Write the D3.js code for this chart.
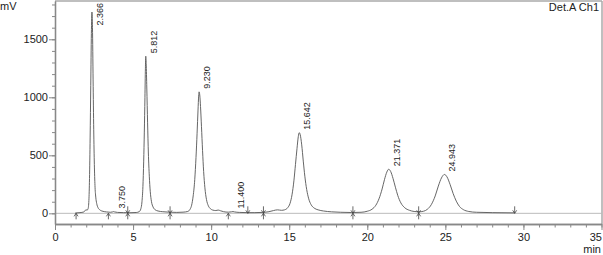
<!DOCTYPE html>
<html>
<head>
<meta charset="utf-8">
<script src="https://cdn.jsdelivr.net/npm/d3@7"></script>
<style>
  body { margin: 0; background: #fff; }
  svg { display: block; font-family: "Liberation Sans", Arial, Helvetica, sans-serif; }
  .axis text { fill: #222; font-size: 11px; }
  .axis path, .axis line { stroke: #888; }
</style>
</head>
<body>
<svg id="chart" width="603" height="255"></svg>
<script>
// trace (time in min, signal in mV)
var traceTime = [1.30, 1.60, 1.85, 1.98, 2.06, 2.12, 2.17, 2.21, 2.25, 2.29, 2.33, 2.366, 2.40, 2.44, 2.48, 2.52, 2.56, 2.61, 2.67, 2.75, 2.85, 3.00, 3.30, 3.55, 3.68, 3.75, 3.82, 4.00, 4.40, 4.80, 5.20,
  5.40, 5.50, 5.57, 5.63, 5.68, 5.72, 5.76, 5.79, 5.812, 5.84, 5.88, 5.93, 5.98, 6.04, 6.10, 6.18, 6.28, 6.40, 6.60, 6.90, 7.30, 7.80, 8.20, 8.50,
  8.65, 8.75, 8.85, 8.95, 9.03, 9.10, 9.16, 9.20, 9.23, 9.27, 9.32, 9.38, 9.45, 9.52, 9.60, 9.70, 9.82, 9.95, 10.1, 10.3, 10.45, 10.6, 10.8, 11.1, 11.3, 11.4, 11.5, 11.8, 12.3, 12.8, 13.3, 13.7, 14.0, 14.25, 14.5, 14.7, 14.9,
  15.05, 15.18, 15.30, 15.40, 15.50, 15.58, 15.642, 15.70, 15.80, 15.90, 16.00, 16.12, 16.25, 16.40, 16.60, 16.85, 17.2, 17.7, 18.3, 19.0, 19.6,
  20.0, 20.3, 20.55, 20.75, 20.95, 21.10, 21.25, 21.371, 21.50, 21.65, 21.80, 21.95, 22.15, 22.40, 22.70, 23.0, 23.3,
  23.6, 23.85, 24.1, 24.35, 24.55, 24.75, 24.943, 25.10, 25.30, 25.50, 25.70, 25.90, 26.15, 26.5, 27.0, 28.0, 29.44];
var traceSignal = [3, 6, 12, 30, 28, 40, 110, 300, 650, 1100, 1550, 1735, 1600, 1150, 720, 420, 240, 140, 85, 50, 32, 20, 12, 9, 12, 15, 12, 8, 6, 5, 7,
  15, 40, 100, 230, 450, 700, 1000, 1250, 1354, 1290, 1080, 780, 520, 320, 190, 100, 55, 32, 20, 14, 10, 8, 10, 16,
  35, 70, 150, 290, 480, 690, 890, 1010, 1047, 1020, 920, 750, 540, 360, 220, 120, 65, 40, 28, 24, 28, 22, 14, 10, 13, 15, 12, 8, 6, 6, 8, 14, 24, 30, 26, 30, 48,
  85, 160, 280, 420, 560, 660, 695, 680, 590, 450, 320, 205, 125, 75, 45, 30, 20, 13, 9, 7, 9,
  18, 35, 70, 125, 210, 290, 355, 380, 360, 300, 225, 155, 90, 48, 26, 16, 13,
  18, 35, 75, 150, 235, 305, 335, 315, 250, 170, 105, 60, 32, 16, 9, 6, 4];

var peakTimes = [2.366, 3.750, 5.812, 9.230, 11.400, 15.642, 21.371, 24.943];
var peakHeights = [1735, 15, 1354, 1047, 15, 695, 380, 335];
var peakLabels = ["2.366", "3.750", "5.812", "9.230", "11.400", "15.642", "21.371", "24.943"];

// integration marks on the baseline
var markStart = [1.35, 3.42, 11.10];
var markEnd = [12.35, 29.44];
var markBoth = [4.66, 7.37, 13.35, 19.08, 23.29];

var xMajor = [0, 5, 10, 15, 20, 25, 30, 35];
var yMajor = [0, 500, 1000, 1500];

var svg = d3.select("#chart");
var x = d3.scaleLinear().domain([0, 35]).range([55, 601.5]);
var y = d3.scaleLinear().domain([-92, 1830]).range([224, 1]);

var pts = traceTime.map(function(t, i) { return [t, traceSignal[i]]; });

// frame
svg.append("line").attr("x1", 55).attr("x2", 602).attr("y1", 1).attr("y2", 1)
  .attr("stroke", "#aaa").attr("stroke-width", 1.5);
svg.append("line").attr("x1", 602).attr("x2", 602).attr("y1", 1).attr("y2", 224)
  .attr("stroke", "#aaa").attr("stroke-width", 1.5);

// zero line
svg.append("line").attr("x1", x(0)).attr("x2", 602).attr("y1", y(0)).attr("y2", y(0))
  .attr("stroke", "#bbb").attr("stroke-width", 1);

// axes: minor then major
var minorY = d3.range(0, 1900, 100);
svg.append("g").attr("class", "axis").attr("transform", "translate(55,0)")
  .call(d3.axisLeft(y).tickValues(minorY).tickSize(3).tickSizeOuter(0).tickFormat(""));
svg.append("g").attr("class", "axis").attr("transform", "translate(55,0)")
  .call(d3.axisLeft(y).tickValues(yMajor).tickSize(6).tickSizeOuter(0).tickPadding(1)
    .tickFormat(d3.format("d")));

svg.append("g").attr("class", "axis").attr("transform", "translate(0,224)")
  .call(d3.axisBottom(x).tickValues(d3.range(0, 36, 1)).tickSize(3.5).tickSizeOuter(0).tickFormat(""));
var xa = svg.append("g").attr("class", "axis").attr("transform", "translate(0,224)")
  .call(d3.axisBottom(x).tickValues(xMajor).tickSize(6).tickSizeOuter(0).tickPadding(3));
xa.selectAll(".tick text").filter(function(d) { return d === 35; })
  .attr("text-anchor", "end").attr("dx", 0);
svg.selectAll(".axis path").attr("stroke-width", 1.3);

// trace
var line = d3.line().x(function(d) { return x(d[0]); }).y(function(d) { return y(d[1]); })
  .curve(d3.curveMonotoneX);
svg.append("path").datum(pts).attr("d", line)
  .attr("fill", "none").attr("stroke", "#555").attr("stroke-width", 0.9);

// integration marks
var y0 = y(0), mk = svg.append("g").attr("stroke", "#444").attr("fill", "none").attr("stroke-width", 0.8);
function arrow(px, dir) {
  mk.append("path").attr("d", "M" + (px - 2) + "," + (y0 + 3 * dir) + "L" + px + "," + y0 + "L" + (px + 2) + "," + (y0 + 3 * dir));
}
markStart.forEach(function(t) {
  var px = x(t);
  mk.append("line").attr("x1", px).attr("x2", px).attr("y1", y0).attr("y2", y0 + 6);
  arrow(px, 1);
});
markEnd.forEach(function(t) {
  var px = x(t);
  mk.append("line").attr("x1", px).attr("x2", px).attr("y1", y0 - 7).attr("y2", y0);
  arrow(px, -1);
});
markBoth.forEach(function(t) {
  var px = x(t);
  mk.append("line").attr("x1", px).attr("x2", px).attr("y1", y0 - 7).attr("y2", y0 + 6);
  arrow(px, -1);
  arrow(px, 1);
});

// peak labels, rotated
peakTimes.forEach(function(t, i) {
  var lx = x(t) + 11, ly = y(peakHeights[i]) - 3;
  var txt = svg.append("text").attr("font-size", "9px").attr("fill", "#222").text(peakLabels[i]);
  var len = txt.node().getComputedTextLength();
  ly = Math.max(ly, len + 3);
  txt.attr("transform", "translate(" + lx + "," + ly + ") rotate(-90)");
});

// titles
svg.append("text").attr("x", 0).attr("y", 10).attr("font-size", "11px").attr("fill", "#222").text("mV");
svg.append("text").attr("x", 599).attr("y", 11).attr("font-size", "11px").attr("fill", "#222")
  .attr("text-anchor", "end").text("Det.A Ch1");
svg.append("text").attr("x", 601).attr("y", 253).attr("font-size", "11px").attr("fill", "#222")
  .attr("text-anchor", "end").text("min");
</script>
</body>
</html>
